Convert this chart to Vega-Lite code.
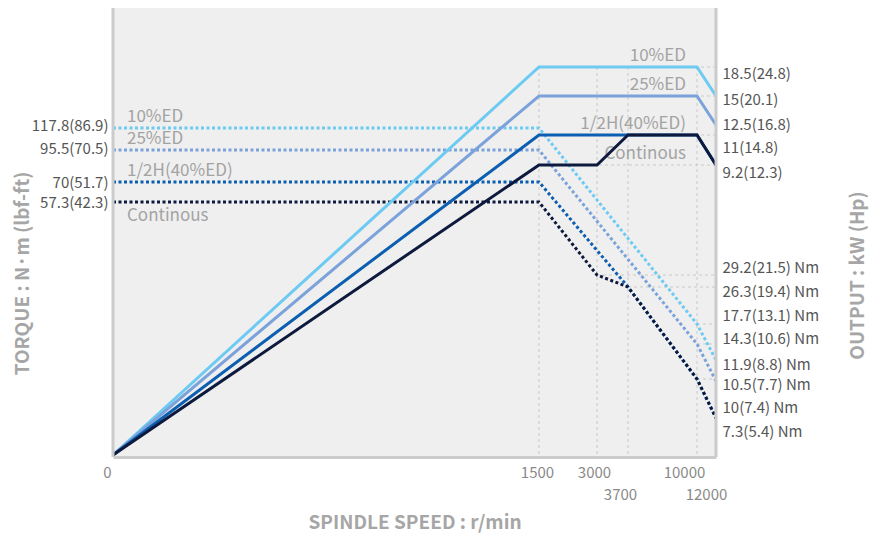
{
  "$schema": "https://vega.github.io/schema/vega-lite/v6.json",
  "width": 603,
  "height": 449,
  "autosize": {"type": "none"},
  "padding": {"left": 113, "top": 8, "right": 173, "bottom": 78},
  "background": "white",
  "view": {"fill": "#efefef", "stroke": null},
  "config": {"font": "Noto Sans CJK KR"},
  "datasets": {
    "power": [
      {"series": "10%ED", "rpm": 0, "kw": 0},
      {"series": "10%ED", "rpm": 1500, "kw": 18.5},
      {"series": "10%ED", "rpm": 10000, "kw": 18.5},
      {"series": "10%ED", "rpm": 12000, "kw": 15},
      {"series": "25%ED", "rpm": 0, "kw": 0},
      {"series": "25%ED", "rpm": 1500, "kw": 15},
      {"series": "25%ED", "rpm": 10000, "kw": 15},
      {"series": "25%ED", "rpm": 12000, "kw": 12.5},
      {"series": "1/2H(40%ED)", "rpm": 0, "kw": 0},
      {"series": "1/2H(40%ED)", "rpm": 1500, "kw": 11},
      {"series": "1/2H(40%ED)", "rpm": 10000, "kw": 11},
      {"series": "1/2H(40%ED)", "rpm": 12000, "kw": 9.2},
      {"series": "Continous", "rpm": 0, "kw": 0},
      {"series": "Continous", "rpm": 1500, "kw": 9.2},
      {"series": "Continous", "rpm": 3000, "kw": 9.2},
      {"series": "Continous", "rpm": 3700, "kw": 11},
      {"series": "Continous", "rpm": 10000, "kw": 11},
      {"series": "Continous", "rpm": 12000, "kw": 9.2}
    ],
    "torque": [
      {"series": "10%ED", "rpm": 0, "nm": 117.8},
      {"series": "10%ED", "rpm": 1500, "nm": 117.8},
      {"series": "10%ED", "rpm": 10000, "nm": 17.7},
      {"series": "10%ED", "rpm": 12000, "nm": 11.9},
      {"series": "25%ED", "rpm": 0, "nm": 95.5},
      {"series": "25%ED", "rpm": 1500, "nm": 95.5},
      {"series": "25%ED", "rpm": 10000, "nm": 14.3},
      {"series": "25%ED", "rpm": 12000, "nm": 10},
      {"series": "1/2H(40%ED)", "rpm": 0, "nm": 70},
      {"series": "1/2H(40%ED)", "rpm": 1500, "nm": 70},
      {"series": "1/2H(40%ED)", "rpm": 3700, "nm": 26.3},
      {"series": "1/2H(40%ED)", "rpm": 10000, "nm": 10.5},
      {"series": "1/2H(40%ED)", "rpm": 12000, "nm": 7.3},
      {"series": "Continous", "rpm": 0, "nm": 57.3},
      {"series": "Continous", "rpm": 1500, "nm": 57.3},
      {"series": "Continous", "rpm": 3000, "nm": 29.2},
      {"series": "Continous", "rpm": 3700, "nm": 26.3},
      {"series": "Continous", "rpm": 10000, "nm": 10.5},
      {"series": "Continous", "rpm": 12000, "nm": 7.3}
    ],
    "vgrid": [{"rpm": 1500}, {"rpm": 3000}, {"rpm": 3700}, {"rpm": 10000}],
    "pgrid": [{"rpm": 1500, "kw": 18.5}, {"rpm": 1500, "kw": 15}, {"rpm": 1500, "kw": 11}, {"rpm": 1500, "kw": 9.2}],
    "tgrid": [{"rpm": 3000, "nm": 29.2}, {"rpm": 3700, "nm": 26.3}, {"rpm": 10000, "nm": 17.7}, {"rpm": 10000, "nm": 14.3}, {"rpm": 10000, "nm": 10.5}],
    "tnotesAbove": [{"note": "10%ED", "nm": 117.8}, {"note": "25%ED", "nm": 95.5}, {"note": "1/2H(40%ED)", "nm": 70}],
    "tnotesBelow": [{"note": "Continous", "nm": 57.3}],
    "pnotes": [{"note": "10%ED", "kw": 18.5}, {"note": "25%ED", "kw": 15}, {"note": "1/2H(40%ED)", "kw": 11}, {"note": "Continous", "kw": 9.2}]
  },
  "layer": [
    {
      "data": {"name": "vgrid"},
      "mark": {"type": "rule", "color": "#c9c9c9", "strokeWidth": 1, "strokeDash": [3, 3]},
      "encoding": {
        "x": {"field": "rpm", "type": "quantitative",
          "scale": {"domain": [0, 1500, 3000, 3700, 10000, 12000], "range": [0, 426, 484, 515, 584, 603], "nice": false, "zero": false},
          "axis": {"values": [0, 1500, 3000, 3700, 10000, 12000], "format": "d", "title": "SPINDLE SPEED : r/min",
            "grid": false, "ticks": false, "domain": true, "domainColor": "#cbcbcb", "domainWidth": 3,
            "labelFontSize": 15, "labelColor": "#8a8a8a", "labelFlush": false, "labelOverlap": false, "labelBaseline": "top",
            "labelPadding": {"expr": "(datum.value == 3700 || datum.value == 12000) ? 30 : 8"},
            "labelOffset": {"expr": "datum.value == 0 ? -6 : datum.value == 1500 ? -2 : datum.value == 3000 ? -3 : datum.value == 3700 ? -8 : datum.value == 10000 ? -13 : -10"},
            "titleFontSize": 19, "titleFontWeight": "bold", "titleColor": "#a6a6a6", "titleY": 56, "titleBaseline": "top"}},
        "y": {"datum": 18.5, "type": "quantitative",
          "scale": {"domain": [0, 9.2, 11, 12.5, 15, 18.5], "range": [447, 157, 127, 117, 88, 59], "nice": false, "zero": false},
          "axis": null},
        "y2": {"datum": 0}
      }
    },
    {
      "data": {"name": "pgrid"},
      "mark": {"type": "rule", "color": "#c9c9c9", "strokeWidth": 1, "strokeDash": [3, 3]},
      "encoding": {
        "x": {"field": "rpm", "type": "quantitative",
          "scale": {"domain": [0, 1500, 3000, 3700, 10000, 12000], "range": [0, 426, 484, 515, 584, 603], "nice": false, "zero": false}},
        "x2": {"datum": 12000},
        "y": {"field": "kw", "type": "quantitative",
          "scale": {"domain": [0, 9.2, 11, 12.5, 15, 18.5], "range": [447, 157, 127, 117, 88, 59], "nice": false, "zero": false},
          "axis": null}
      }
    },
    {
      "data": {"name": "tgrid"},
      "mark": {"type": "rule", "color": "#c9c9c9", "strokeWidth": 1, "strokeDash": [3, 3]},
      "encoding": {
        "x": {"field": "rpm", "type": "quantitative",
          "scale": {"domain": [0, 1500, 3000, 3700, 10000, 12000], "range": [0, 426, 484, 515, 584, 603], "nice": false, "zero": false}},
        "x2": {"datum": 12000},
        "y": {"field": "nm", "type": "quantitative",
          "scale": {"domain": [0, 7.3, 10, 10.5, 11.9, 14.3, 17.7, 26.3, 29.2, 57.3, 70, 95.5, 117.8], "range": [447, 410, 373, 371, 352, 336, 316, 279, 267, 194, 174, 142, 120], "nice": false, "zero": false},
          "axis": {"orient": "right", "values": [29.2, 26.3, 17.7, 14.3, 11.9, 10.5, 10, 7.3], "title": null,
            "grid": false, "ticks": false, "domain": false, "labelOverlap": false, "labelBound": false,
            "labelFontSize": 15, "labelColor": "#555555", "labelPadding": 6, "labelBaseline": "middle",
            "labelExpr": "datum.value == 29.2 ? '29.2(21.5) Nm' : datum.value == 26.3 ? '26.3(19.4) Nm' : datum.value == 17.7 ? '17.7(13.1) Nm' : datum.value == 14.3 ? '14.3(10.6) Nm' : datum.value == 11.9 ? '11.9(8.8) Nm' : datum.value == 10.5 ? '10.5(7.7) Nm' : datum.value == 10 ? '10(7.4) Nm' : '7.3(5.4) Nm'",
            "labelOffset": {"expr": "datum.value == 29.2 ? -8 : datum.value == 26.3 ? 4 : datum.value == 17.7 ? -9 : datum.value == 14.3 ? -6 : datum.value == 11.9 ? 4 : datum.value == 10.5 ? 5 : datum.value == 10 ? 26 : 13"}}}
      }
    },
    {
      "data": {"name": "tnotesAbove"},
      "mark": {"type": "text", "align": "left", "baseline": "bottom", "dx": 14, "dy": -2, "fontSize": 17, "color": "#a3a3a3"},
      "encoding": {
        "x": {"datum": 0, "type": "quantitative",
          "scale": {"domain": [0, 1500, 3000, 3700, 10000, 12000], "range": [0, 426, 484, 515, 584, 603], "nice": false, "zero": false}},
        "y": {"field": "nm", "type": "quantitative",
          "scale": {"domain": [0, 7.3, 10, 10.5, 11.9, 14.3, 17.7, 26.3, 29.2, 57.3, 70, 95.5, 117.8], "range": [447, 410, 373, 371, 352, 336, 316, 279, 267, 194, 174, 142, 120], "nice": false, "zero": false},
          "axis": null},
        "text": {"field": "note"}
      }
    },
    {
      "data": {"name": "tnotesBelow"},
      "mark": {"type": "text", "align": "left", "baseline": "top", "dx": 14, "dy": 6, "fontSize": 17, "color": "#a3a3a3"},
      "encoding": {
        "x": {"datum": 0, "type": "quantitative",
          "scale": {"domain": [0, 1500, 3000, 3700, 10000, 12000], "range": [0, 426, 484, 515, 584, 603], "nice": false, "zero": false}},
        "y": {"field": "nm", "type": "quantitative",
          "scale": {"domain": [0, 7.3, 10, 10.5, 11.9, 14.3, 17.7, 26.3, 29.2, 57.3, 70, 95.5, 117.8], "range": [447, 410, 373, 371, 352, 336, 316, 279, 267, 194, 174, 142, 120], "nice": false, "zero": false},
          "axis": null},
        "text": {"field": "note"}
      }
    },
    {
      "data": {"name": "pnotes"},
      "mark": {"type": "text", "align": "right", "baseline": "bottom", "dx": -11, "dy": -2, "fontSize": 17, "color": "#a3a3a3"},
      "encoding": {
        "x": {"datum": 10000, "type": "quantitative",
          "scale": {"domain": [0, 1500, 3000, 3700, 10000, 12000], "range": [0, 426, 484, 515, 584, 603], "nice": false, "zero": false}},
        "y": {"field": "kw", "type": "quantitative",
          "scale": {"domain": [0, 9.2, 11, 12.5, 15, 18.5], "range": [447, 157, 127, 117, 88, 59], "nice": false, "zero": false},
          "axis": null},
        "text": {"field": "note"}
      }
    },
    {
      "data": {"name": "torque"},
      "mark": {"type": "line", "strokeWidth": 3, "strokeDash": [3, 2.5]},
      "encoding": {
        "x": {"field": "rpm", "type": "quantitative",
          "scale": {"domain": [0, 1500, 3000, 3700, 10000, 12000], "range": [0, 426, 484, 515, 584, 603], "nice": false, "zero": false}},
        "y": {"field": "nm", "type": "quantitative",
          "scale": {"domain": [0, 7.3, 10, 10.5, 11.9, 14.3, 17.7, 26.3, 29.2, 57.3, 70, 95.5, 117.8], "range": [447, 410, 373, 371, 352, 336, 316, 279, 267, 194, 174, 142, 120], "nice": false, "zero": false},
          "axis": {"orient": "left", "values": [57.3, 70, 95.5, 117.8], "title": "TORQUE : N·m (lbf-ft)",
            "grid": false, "ticks": false, "domain": false, "labelOverlap": false, "labelBound": false,
            "labelFontSize": 15, "labelColor": "#555555", "labelPadding": 5, "labelBaseline": "middle",
            "labelExpr": "datum.value == 117.8 ? '117.8(86.9)' : datum.value == 95.5 ? '95.5(70.5)' : datum.value == 70 ? '70(51.7)' : '57.3(42.3)'",
            "labelOffset": {"expr": "datum.value == 117.8 ? -3 : datum.value == 95.5 ? -2 : 0"},
            "titleFontSize": 19, "titleFontWeight": "bold", "titleColor": "#a6a6a6",
            "titleAngle": 270, "titleX": -91, "titleY": 265, "titleBaseline": "middle", "titleAlign": "center"}},
        "color": {"field": "series", "type": "nominal",
          "scale": {"domain": ["10%ED", "25%ED", "1/2H(40%ED)", "Continous"], "range": ["#6ccaf3", "#7ba2da", "#0b5eb0", "#0d1a3d"]},
          "legend": null}
      }
    },
    {
      "data": {"name": "power"},
      "mark": {"type": "line", "strokeWidth": 3},
      "encoding": {
        "x": {"field": "rpm", "type": "quantitative",
          "scale": {"domain": [0, 1500, 3000, 3700, 10000, 12000], "range": [0, 426, 484, 515, 584, 603], "nice": false, "zero": false}},
        "y": {"field": "kw", "type": "quantitative",
          "scale": {"domain": [0, 9.2, 11, 12.5, 15, 18.5], "range": [447, 157, 127, 117, 88, 59], "nice": false, "zero": false},
          "axis": {"orient": "right", "values": [9.2, 11, 12.5, 15, 18.5], "title": "OUTPUT : kW (Hp)",
            "grid": false, "ticks": false, "domain": false, "labelOverlap": false, "labelBound": false,
            "labelFontSize": 15, "labelColor": "#555555", "labelPadding": 6, "labelBaseline": "middle",
            "labelExpr": "datum.value == 18.5 ? '18.5(24.8)' : datum.value == 15 ? '15(20.1)' : datum.value == 12.5 ? '12.5(16.8)' : datum.value == 11 ? '11(14.8)' : '9.2(12.3)'",
            "labelOffset": {"expr": "datum.value == 18.5 ? 6 : datum.value == 15 ? 3 : datum.value == 12.5 ? -1 : datum.value == 11 ? 12 : 7"},
            "titleFontSize": 19, "titleFontWeight": "bold", "titleColor": "#a6a6a6",
            "titleAngle": 270, "titleX": 141, "titleY": 267, "titleBaseline": "middle", "titleAlign": "center"}},
        "color": {"field": "series", "type": "nominal",
          "scale": {"domain": ["10%ED", "25%ED", "1/2H(40%ED)", "Continous"], "range": ["#6ccaf3", "#7ba2da", "#0b5eb0", "#0d1a3d"]},
          "legend": null}
      }
    },
    {
      "data": {"values": [{"edge": 0}, {"edge": 12000}]},
      "mark": {"type": "rule", "color": "#cbcbcb", "strokeWidth": 3},
      "encoding": {
        "x": {"field": "edge", "type": "quantitative",
          "scale": {"domain": [0, 1500, 3000, 3700, 10000, 12000], "range": [0, 426, 484, 515, 584, 603], "nice": false, "zero": false}}
      }
    }
  ],
  "resolve": {"scale": {"y": "independent", "color": "shared"}, "axis": {"y": "independent"}}
}
